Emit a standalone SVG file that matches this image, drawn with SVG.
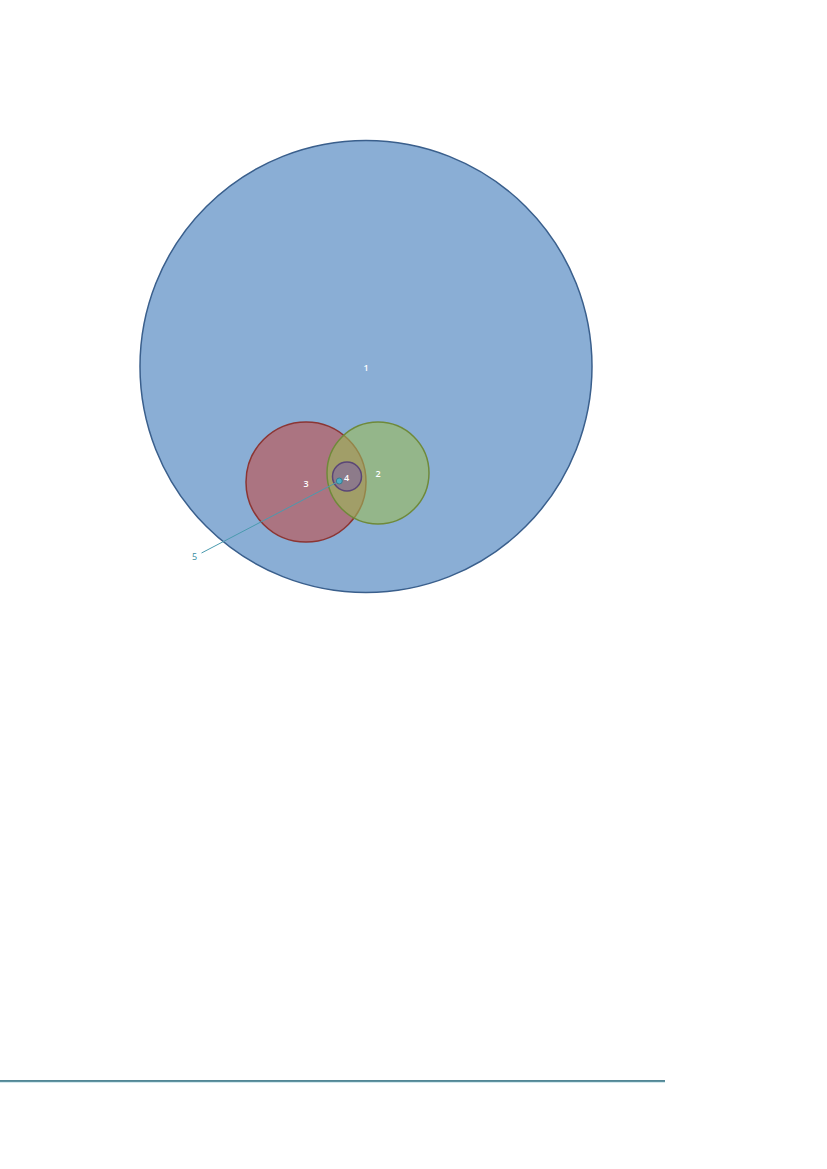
<svg xmlns="http://www.w3.org/2000/svg" width="827" height="1169" viewBox="0 0 827 1169">
<style>
.lbl{font-family:"Open Sans","Liberation Sans",sans-serif;font-size:9px;font-weight:600;fill:#ffffff;text-anchor:middle;dominant-baseline:central}
.lbl5{font-family:"Open Sans","Liberation Sans",sans-serif;font-size:9px;fill:#3a8ca0;text-anchor:middle;dominant-baseline:central}
</style>
<rect width="827" height="1169" fill="#ffffff"/>
<g id="node1">
<circle cx="366" cy="366.5" r="226" fill="#8aaed5" stroke="#3a5f8c" stroke-width="1.5"/>
<text class="lbl" x="366" y="367">1</text>
</g>
<g id="node3">
<circle cx="306" cy="482" r="60" fill="#c0504d" fill-opacity="0.62" stroke="#8c3533" stroke-width="1.5"/>
</g>
<g id="node2">
<circle cx="378" cy="473" r="51" fill="#9bbb59" fill-opacity="0.6" stroke="#6f8a3a" stroke-width="1.5"/>
</g>
<g id="node4">
<circle cx="347" cy="476.5" r="14.5" fill="#8064a2" fill-opacity="0.6" stroke="#5a4676" stroke-width="1.5"/>
</g>
<g id="labels">
<text class="lbl" x="378" y="473">2</text>
<text class="lbl" x="306" y="483">3</text>
<text class="lbl" x="346.5" y="477">4</text>
</g>
<g id="connectors">
<line x1="339.3" y1="481" x2="201.5" y2="553" stroke="#4a9aae" stroke-width="1"/>
</g>
<g id="node5">
<circle cx="339.3" cy="481" r="3" fill="#4bacc6" stroke="#357d91" stroke-width="1"/>
<text class="lbl5" x="194.5" y="556">5</text>
</g>
<g id="rule">
<line x1="0" y1="1081" x2="665" y2="1081" stroke="#1a5f72" stroke-width="1.3"/>
<line x1="0" y1="1082.2" x2="665" y2="1082.2" stroke="#9acbd6" stroke-width="0.6"/>
</g>
</svg>
